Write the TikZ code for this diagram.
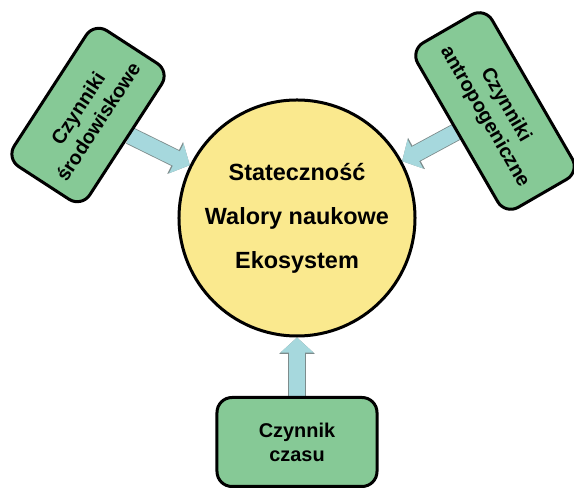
\documentclass[tikz,border=0pt]{standalone}
\usepackage{fontspec}
\setmainfont{Liberation Sans}
\usetikzlibrary{arrows.meta,backgrounds}

\definecolor{ecoyellow}{RGB}{250,233,142}
\definecolor{factorgreen}{RGB}{134,201,150}
\definecolor{flowblue}{RGB}{166,216,221}
\definecolor{flowedge}{RGB}{125,140,140}

\tikzset{
  factor/.style={rectangle, rounded corners=0.45cm, draw, line width=0.09cm, fill=factorgreen, minimum width=4.8cm, minimum height=2.67cm, align=center, font=\fontsize{17}{20.5}\selectfont\bfseries},
  core/.style={circle, draw, line width=0.09cm, fill=ecoyellow, minimum size=7.08cm, align=center, font=\fontsize{20}{37.5}\selectfont\bfseries},
  flow/.style={line width=0.48cm, draw=flowblue, -{Triangle[width=0.96cm, length=0.45cm]},
    preaction={draw=flowedge, line width=0.53cm, -{Triangle[width=1.04cm, length=0.49cm]}}}
}

\begin{document}
\begin{tikzpicture}[x=0.03cm, y=-0.03cm]
    \useasboundingbox (0,0) rectangle (574,488);

    \node[core] (eco) at (297,218) {Stateczność\\Walory naukowe\\Ekosystem};
    \node[factor, rotate=57, minimum width=4.86cm, minimum height=2.7cm] (srod) at (88,115) {Czynniki\\środowiskowe};
    \node[factor, rotate=-60, minimum width=5.7cm, minimum height=2.58cm] (antr) at (495,111) {Czynniki\\antropogeniczne};
    \node[factor] (czas) at (297,442) {Czynnik\\czasu};

    \begin{scope}[on background layer]
        \draw[flow] (srod) -- (eco);
        \draw[flow] (antr) -- (eco);
        \draw[flow] (czas) -- (eco);
    \end{scope}
\end{tikzpicture}
\end{document}
